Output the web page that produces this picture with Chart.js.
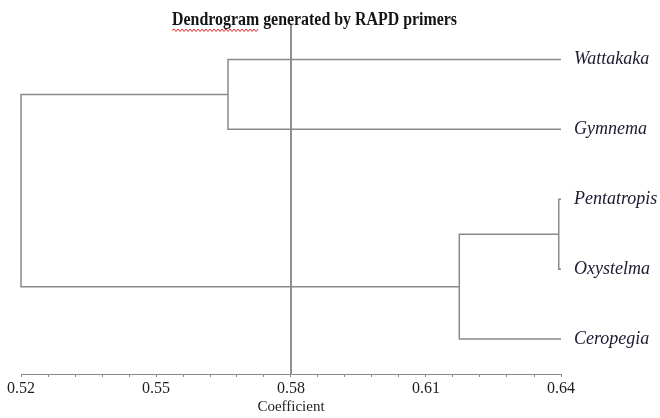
<!DOCTYPE html>
<html>
<head>
<meta charset="utf-8">
<script src="https://cdn.jsdelivr.net/npm/chart.js@4.4.1/dist/chart.umd.min.js"></script>
<style>
  html, body { margin: 0; padding: 0; background: #ffffff; }
  #wrap { width: 660px; height: 418px; position: relative; }
</style>
</head>
<body>
<div id="wrap"><canvas id="c" width="660" height="418"></canvas></div>
<script>
// ---- data ----
const titleText = 'Dendrogram generated by RAPD primers';
const axisTitle = 'Coefficient';
const leafNames = ['Wattakaka', 'Gymnema', 'Pentatropis', 'Oxystelma', 'Ceropegia'];
const leafCoefficient = 0.64;          // leaves drawn at the right edge
// merges: node ids 0-4 are leaves, merge i creates node 5+i
const mergeLeft  = [0, 2, 6, 5];
const mergeRight = [1, 3, 4, 7];
const mergeCoefficient = [0.566, 0.6395, 0.6174, 0.52];
const cutoffCoefficient = 0.58;
const xTickLabels = [0.52, 0.55, 0.58, 0.61, 0.64];
const xMin = 0.52, xMax = 0.64, minorStep = 0.006;

// ---- build dendrogram paths ----
const nodeX = [], nodeY = [];
leafNames.forEach((n, i) => { nodeX[i] = leafCoefficient; nodeY[i] = i; });
const branchSets = [];
mergeLeft.forEach((a, i) => {
  const b = mergeRight[i];
  const h = mergeCoefficient[i];
  const id = leafNames.length + i;
  nodeX[id] = h;
  nodeY[id] = (nodeY[a] + nodeY[b]) / 2;
  branchSets.push({
    data: [
      { x: nodeX[a], y: nodeY[a] },
      { x: h, y: nodeY[a] },
      { x: h, y: nodeY[b] },
      { x: nodeX[b], y: nodeY[b] }
    ],
    showLine: true,
    borderColor: '#8a8a8a',
    borderWidth: 1.5,
    pointRadius: 0,
    borderJoinStyle: 'miter',
    borderCapStyle: 'butt',
    clip: 4
  });
});

const yMin = -0.5, yMax = leafNames.length - 0.5;
branchSets.push({
  data: [{ x: cutoffCoefficient, y: yMin }, { x: cutoffCoefficient, y: yMax }],
  showLine: true,
  borderColor: '#909090',
  borderWidth: 2,
  pointRadius: 0,
  clip: 4
});

const titlePlugin = {
  id: 'topTitle',
  afterDraw(chart) {
    const ctx = chart.ctx;
    ctx.save();
    ctx.font = 'bold 18px "Liberation Serif"';
    ctx.fillStyle = '#141414';
    ctx.textAlign = 'left';
    ctx.textBaseline = 'alphabetic';
    const targetW = 285, x0 = 172, base = 25;
    const full = ctx.measureText(titleText).width;
    const sx = targetW / full;
    ctx.translate(x0, base);
    ctx.scale(sx, 1);
    ctx.fillText(titleText, 0, 0);
    const wordW = ctx.measureText(titleText.split(' ')[0]).width;
    ctx.restore();
    // spell-check style wavy underline under first word
    ctx.save();
    ctx.strokeStyle = '#e02828';
    ctx.lineWidth = 1;
    ctx.beginPath();
    const end = x0 + wordW * sx;
    let up = true;
    ctx.moveTo(x0, 30.5);
    for (let x = x0 + 2; x <= end; x += 2) {
      ctx.lineTo(x, up ? 29 : 31.5);
      up = !up;
    }
    ctx.stroke();
    ctx.restore();
  }
};

new Chart(document.getElementById('c'), {
  type: 'scatter',
  data: { datasets: branchSets },
  plugins: [titlePlugin],
  options: {
    responsive: false,
    animation: false,
    events: [],
    layout: { padding: { left: 21, top: 24.5, right: 0, bottom: 0 } },
    plugins: { legend: { display: false }, tooltip: { enabled: false }, title: { display: false } },
    scales: {
      x: {
        type: 'linear',
        min: xMin, max: xMax,
        afterBuildTicks: s => {
          const t = [];
          const n = Math.round((xMax - xMin) / minorStep);
          for (let i = 0; i <= n; i++) t.push({ value: +(xMin + i * minorStep).toFixed(4) });
          s.ticks = t;
        },
        ticks: {
          autoSkip: false, maxRotation: 0, minRotation: 0,
          callback: v => {
            const m = xTickLabels.find(t => Math.abs(t - v) < 1e-6);
            return m !== undefined ? m.toFixed(2) : '';
          },
          font: { family: 'Liberation Serif', size: 16 },
          color: '#1e1e1e',
          padding: 2
        },
        grid: { drawOnChartArea: false, tickLength: 3, tickColor: '#8a8a8a', tickWidth: 1 },
        border: { color: '#8a8a8a', width: 1 },
        title: {
          display: true, text: axisTitle,
          font: { family: 'Liberation Serif', size: 15 },
          color: '#1e1e1e',
          padding: { top: 0, bottom: 2 }
        },
        afterFit: s => { s.height = 44; }
      },
      y: {
        type: 'linear',
        position: 'right',
        reverse: true,
        min: yMin, max: yMax,
        afterBuildTicks: s => { s.ticks = leafNames.map((_, i) => ({ value: i })); },
        ticks: {
          autoSkip: false,
          callback: v => leafNames[v],
          font: { family: 'Liberation Serif', size: 18, style: 'italic' },
          color: '#1a1a30',
          padding: 13
        },
        grid: { display: false, drawTicks: false },
        border: { display: false },
        afterFit: s => { s.width = 99; }
      }
    }
  }
});
</script>
</body>
</html>
